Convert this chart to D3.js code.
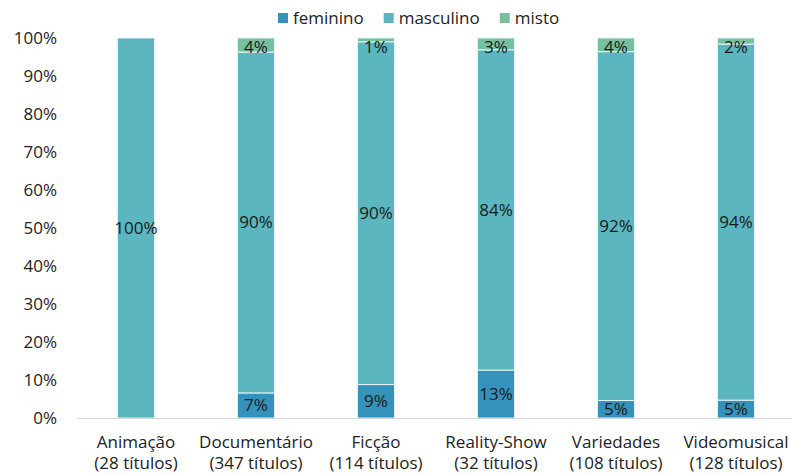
<!DOCTYPE html>
<html>
<head>
<meta charset="utf-8">
<script src="https://cdn.jsdelivr.net/npm/d3@7"></script>
<style>
  body { margin: 0; background: #fff; }
  svg { font-family: 'Open Sans', sans-serif; }
</style>
</head>
<body>
<svg id="chart" width="792" height="475"></svg>
<script>
var categories = ['Animação', 'Documentário', 'Ficção', 'Reality-Show', 'Variedades', 'Videomusical']
var subtitles = ['(28 títulos)', '(347 títulos)', '(114 títulos)', '(32 títulos)', '(108 títulos)', '(128 títulos)']
var feminino = [0, 6.6, 8.8, 12.6, 4.6, 4.7]
var masculino = [100, 89.7, 90.2, 84.3, 91.8, 93.7]
var misto = [0, 3.7, 1.0, 3.1, 3.6, 1.6]
var seriesNames = ['feminino', 'masculino', 'misto']
var colors = ['#3592ba', '#5bb6c0', '#76bf9f']
var yTicks = [0, 10, 20, 30, 40, 50, 60, 70, 80, 90, 100]

var svg = d3.select('#chart')
var fontSize = 17

var rows = categories.map(function (c, i) {
  return { cat: c, feminino: feminino[i], masculino: masculino[i], misto: misto[i] }
})
var stacked = d3.stack().keys(seriesNames)(rows)

var x = d3.scaleBand().domain(categories).range([76, 796]).paddingInner(0.69).paddingOuter(0.345)
var y = d3.scaleLinear().domain([0, 100]).range([418, 38])

// y axis labels (no line)
svg.append('g').selectAll('text').data(yTicks).enter().append('text')
  .attr('x', 57).attr('y', function (d) { return y(d) })
  .attr('dy', '0.35em').attr('text-anchor', 'end')
  .attr('font-size', fontSize).attr('fill', '#222')
  .text(function (d) { return d + '%' })

// bars
var layer = svg.append('g').selectAll('g').data(stacked).enter().append('g')
  .attr('fill', function (d, i) { return colors[i] })
layer.selectAll('rect').data(function (d) { return d }).enter().append('rect')
  .attr('x', function (d) { return x(d.data.cat) })
  .attr('width', x.bandwidth())
  .attr('y', function (d) { return y(d[1]) })
  .attr('height', function (d) { return y(d[0]) - y(d[1]) })
  .attr('stroke', '#e8f3f5').attr('stroke-width', 1)
  .style('display', function (d) { return d[1] - d[0] > 0 ? null : 'none' })

// x axis line
svg.append('line').attr('x1', 77).attr('x2', 792).attr('y1', 418.5).attr('y2', 418.5)
  .attr('stroke', '#d9d9d9').attr('stroke-width', 1)

// data labels
var fmt = d3.format('.0f')
stacked.forEach(function (s) {
  svg.append('g').selectAll('text').data(s.filter(function (d) { return d[1] - d[0] > 0 })).enter().append('text')
    .attr('x', function (d) { return x(d.data.cat) + x.bandwidth() / 2 })
    .attr('y', function (d) {
      var c = (y(d[0]) + y(d[1])) / 2
      return Math.min(Math.max(c, 47), 410)
    })
    .attr('dy', '0.35em').attr('text-anchor', 'middle')
    .attr('font-size', fontSize).attr('fill', '#1a1a1a')
    .text(function (d) { return fmt(d[1] - d[0]) + '%' })
})

// category labels
var catG = svg.append('g').selectAll('text').data(categories).enter().append('text')
  .attr('x', function (d) { return x(d) + x.bandwidth() / 2 })
  .attr('text-anchor', 'middle').attr('font-size', fontSize).attr('fill', '#222')
catG.append('tspan').attr('x', function (d) { return x(d) + x.bandwidth() / 2 }).attr('y', 448)
  .text(function (d) { return d })
catG.append('tspan').attr('x', function (d) { return x(d) + x.bandwidth() / 2 }).attr('y', 469)
  .text(function (d, i) { return subtitles[i] })

// legend
var legend = svg.append('g')
var lx = 278
seriesNames.forEach(function (name, i) {
  legend.append('rect').attr('x', lx).attr('y', 13).attr('width', 10).attr('height', 10).attr('fill', colors[i])
  var t = legend.append('text').attr('x', lx + 15).attr('y', 18).attr('dy', '0.35em')
    .attr('font-size', fontSize).attr('fill', '#222').text(name)
  lx += 15 + t.node().getComputedTextLength() + 20
})
</script>
</body>
</html>
